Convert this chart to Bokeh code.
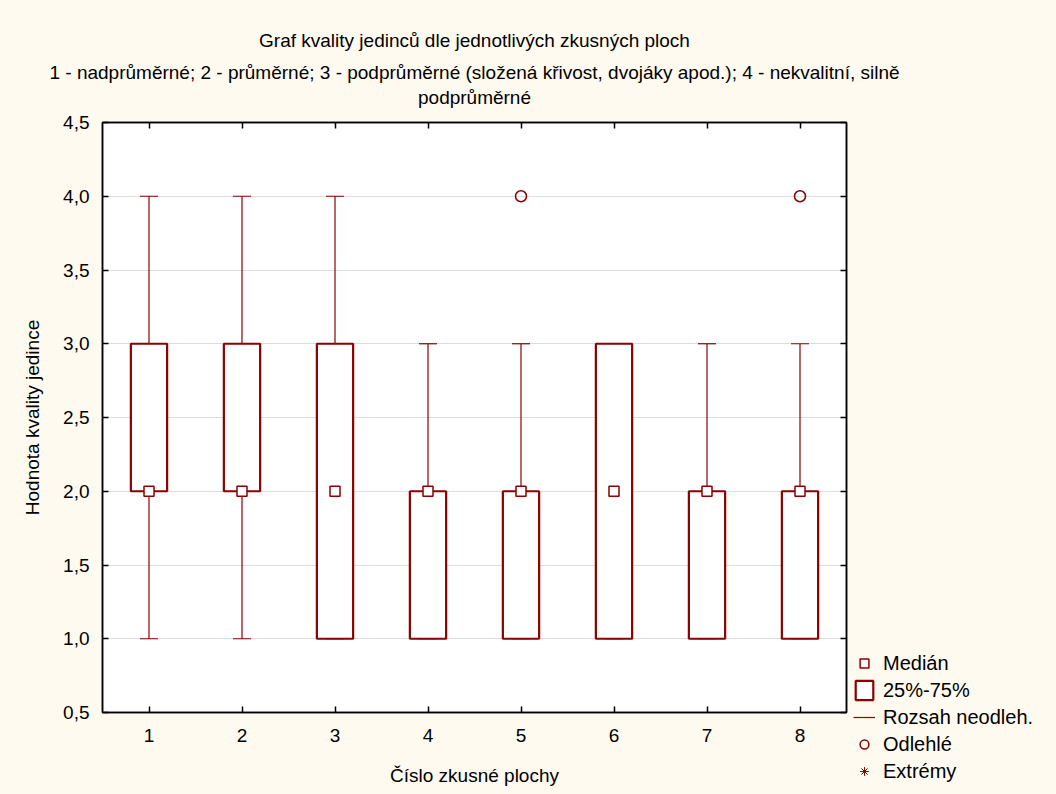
import numpy as np
from bokeh.plotting import figure
from bokeh.layouts import row, column
from bokeh.models import (ColumnDataSource, FixedTicker, LinearAxis, Range1d, Whisker, TeeHead,
                          Legend, LegendItem, Label, CustomJSTickFormatter)
from bokeh.embed import file_html
from bokeh.resources import INLINE

# ---------------- data ----------------
groups = [1, 2, 3, 4, 5, 6, 7, 8]
q1 = [2, 2, 1, 1, 1, 1, 1, 1]
q3 = [3, 3, 3, 2, 2, 3, 2, 2]
median = [2, 2, 2, 2, 2, 2, 2, 2]
whisk_lo = [1, 1, 1, 1, 1, 1, 1, 1]
whisk_hi = [4, 4, 4, 3, 3, 3, 3, 3]
outlier_x = [5, 8]
outlier_y = [4, 4]
extreme_x = []   # no extremes in the data
extreme_y = []

y_ticks = [0.5, 1.0, 1.5, 2.0, 2.5, 3.0, 3.5, 4.0, 4.5]
y_tick_labels = ["0,5", "1,0", "1,5", "2,0", "2,5", "3,0", "3,5", "4,0", "4,5"]
x_ticks = groups

title_lines = [
    "Graf kvality jedinců dle jednotlivých zkusných ploch",
    "1 - nadprůměrné; 2 - průměrné; 3 - podprůměrné (složená křivost, dvojáky apod.); 4 - nekvalitní, silně",
    "podprůměrné",
]
x_label = "Číslo zkusné plochy"
y_label = "Hodnota kvality jedince"
legend_labels = ["Medián", "25%-75%", "Rozsah neodleh.", "Odlehlé", "Extrémy"]

# ---------------- style ----------------
FONT = "Liberation Sans"
FS = "19px"
RED = "#8B0000"
BG = "#FFFAF0"
TOTAL_W, TOTAL_H = 1056, 794
TITLE_H = 112
MAIN_W = 852
MAIN_H = TOTAL_H - TITLE_H


def no_align(fig):
    if "frame_align" in fig.properties():
        fig.frame_align = False


med_style = dict(marker="square", size=10, fill_color="white", line_color=RED, line_width=1.5)
box_style = dict(fill_color="white", line_color=RED, line_width=2.2)
out_style = dict(marker="circle", size=11, fill_color=None, line_color=RED, line_width=1.5)
ext_style = dict(marker="asterisk", size=9, line_color=RED, line_width=1)
rng_style = dict(line_color=RED, line_width=1.2)

# ---------------- title strip ----------------
tf = figure(width=TOTAL_W, height=TITLE_H, x_range=Range1d(0, 1), y_range=Range1d(0, 1),
            output_backend="svg", toolbar_location=None, title=None,
            x_axis_type=None, y_axis_type=None,
            min_border_left=0, min_border_right=0, min_border_top=0, min_border_bottom=0,
            background_fill_color=BG, border_fill_color=BG, outline_line_color=None)
tf.xgrid.visible = False
tf.ygrid.visible = False
no_align(tf)
for txt, yy in zip(title_lines, [TITLE_H - 40, TITLE_H - 72, TITLE_H - 97]):
    tf.add_layout(Label(x=474, y=yy, x_units="screen", y_units="screen", text=txt,
                        text_align="center", text_baseline="middle",
                        text_font=FONT, text_font_size=FS, text_color="black"))

# ---------------- main plot ----------------
p = figure(width=MAIN_W, height=MAIN_H, title=None,
           x_range=Range1d(0.5, 8.5), y_range=Range1d(0.5, 4.5),
           output_backend="svg", toolbar_location=None,
           min_border_left=102, min_border_right=6, min_border_top=10, min_border_bottom=82,
           background_fill_color="white", border_fill_color=BG,
           outline_line_color="black", outline_line_width=1.5)
no_align(p)

p.xgrid.visible = False
p.ygrid.ticker = FixedTicker(ticks=y_ticks)
p.ygrid.grid_line_color = "#DDDDDD"
p.ygrid.grid_line_width = 1

fmt = CustomJSTickFormatter(args=dict(tvals=y_ticks, tlabels=y_tick_labels),
                            code="const i = tvals.findIndex(t => Math.abs(t - tick) < 1e-9); return i >= 0 ? tlabels[i] : '';")
blank = CustomJSTickFormatter(code="return '';")

for ax in (p.xaxis[0], p.yaxis[0]):
    ax.axis_line_color = "black"
    ax.axis_line_width = 1.5
    ax.major_tick_in = 6
    ax.major_tick_out = 0
    ax.minor_tick_line_color = None
    ax.major_tick_line_color = "black"
    ax.major_tick_line_width = 1.5
    ax.major_label_text_font = FONT
    ax.major_label_text_font_size = FS
    ax.major_label_text_color = "black"
    ax.axis_label_text_font = FONT
    ax.axis_label_text_font_size = FS
    ax.axis_label_text_font_style = "normal"
    ax.axis_label_text_color = "black"

p.xaxis.ticker = FixedTicker(ticks=x_ticks)
p.xaxis.major_label_standoff = 16
p.xaxis.axis_label = x_label
p.xaxis.axis_label_standoff = 20

p.yaxis.ticker = FixedTicker(ticks=y_ticks)
p.yaxis.formatter = fmt
p.yaxis.major_label_standoff = 13
p.yaxis.axis_label = y_label
p.yaxis.axis_label_standoff = 17

top_ax = LinearAxis(ticker=FixedTicker(ticks=x_ticks), formatter=blank,
                    major_label_text_font_size="1px", major_label_standoff=0,
                    major_tick_in=6, major_tick_out=0, minor_tick_line_color=None,
                    axis_line_width=1.5, major_tick_line_width=1.5)
right_ax = LinearAxis(ticker=FixedTicker(ticks=y_ticks), formatter=blank,
                      major_label_text_font_size="1px", major_label_standoff=0,
                      major_tick_in=6, major_tick_out=0, minor_tick_line_color=None,
                      axis_line_width=1.5, major_tick_line_width=1.5)
p.add_layout(top_ax, "above")
p.add_layout(right_ax, "right")

src = ColumnDataSource(dict(x=groups, lo=whisk_lo, hi=whisk_hi, q1=q1, q3=q3, med=median))

wh = Whisker(base="x", lower="lo", upper="hi", source=src, line_color=RED, line_width=1.2,
             upper_head=TeeHead(size=18, line_color=RED, line_width=1.2),
             lower_head=TeeHead(size=18, line_color=RED, line_width=1.2),
             level="underlay")
p.add_layout(wh)

p.vbar(x="x", width=0.39, bottom="q1", top="q3", source=src, **box_style)
p.scatter(x="x", y="med", source=src, **med_style)
p.scatter(outlier_x, outlier_y, **out_style)
p.scatter(extreme_x, extreme_y, **ext_style)

# ---------------- legend panel (key only) ----------------
lg = figure(width=TOTAL_W - MAIN_W, height=MAIN_H, x_range=Range1d(0, 1), y_range=Range1d(0, 1),
            output_backend="svg", toolbar_location=None, title=None,
            x_axis_type=None, y_axis_type=None,
            min_border_left=0, min_border_right=0, min_border_top=0, min_border_bottom=0,
            background_fill_color=BG, border_fill_color=BG, outline_line_color=None)
lg.xgrid.visible = False
lg.ygrid.visible = False
no_align(lg)
key = [np.nan]
k_med = lg.scatter(key, key, **med_style)
k_box = lg.vbar(x=key, top=key, bottom=key, width=0.1, **box_style)
k_rng = lg.segment(x0=key, y0=key, x1=key, y1=key, **rng_style)
k_out = lg.scatter(key, key, **out_style)
k_ext = lg.scatter(key, key, **ext_style)

legend = Legend(items=[
    LegendItem(label=legend_labels[0], renderers=[k_med]),
    LegendItem(label=legend_labels[1], renderers=[k_box]),
    LegendItem(label=legend_labels[2], renderers=[k_rng]),
    LegendItem(label=legend_labels[3], renderers=[k_out]),
    LegendItem(label=legend_labels[4], renderers=[k_ext]),
], location=(1, 11), padding=0, margin=0, spacing=3,
    glyph_width=22, glyph_height=24, label_height=24, label_standoff=8,
    label_text_font=FONT, label_text_font_size="20px", label_text_color="black",
    background_fill_alpha=0, border_line_color=None)
lg.add_layout(legend, "center")

inner = row(p, lg, spacing=0, styles={"background-color": BG})
layout = column(tf, inner, spacing=0, styles={"background-color": BG})
open("out.html", "w").write(file_html(layout, INLINE))
